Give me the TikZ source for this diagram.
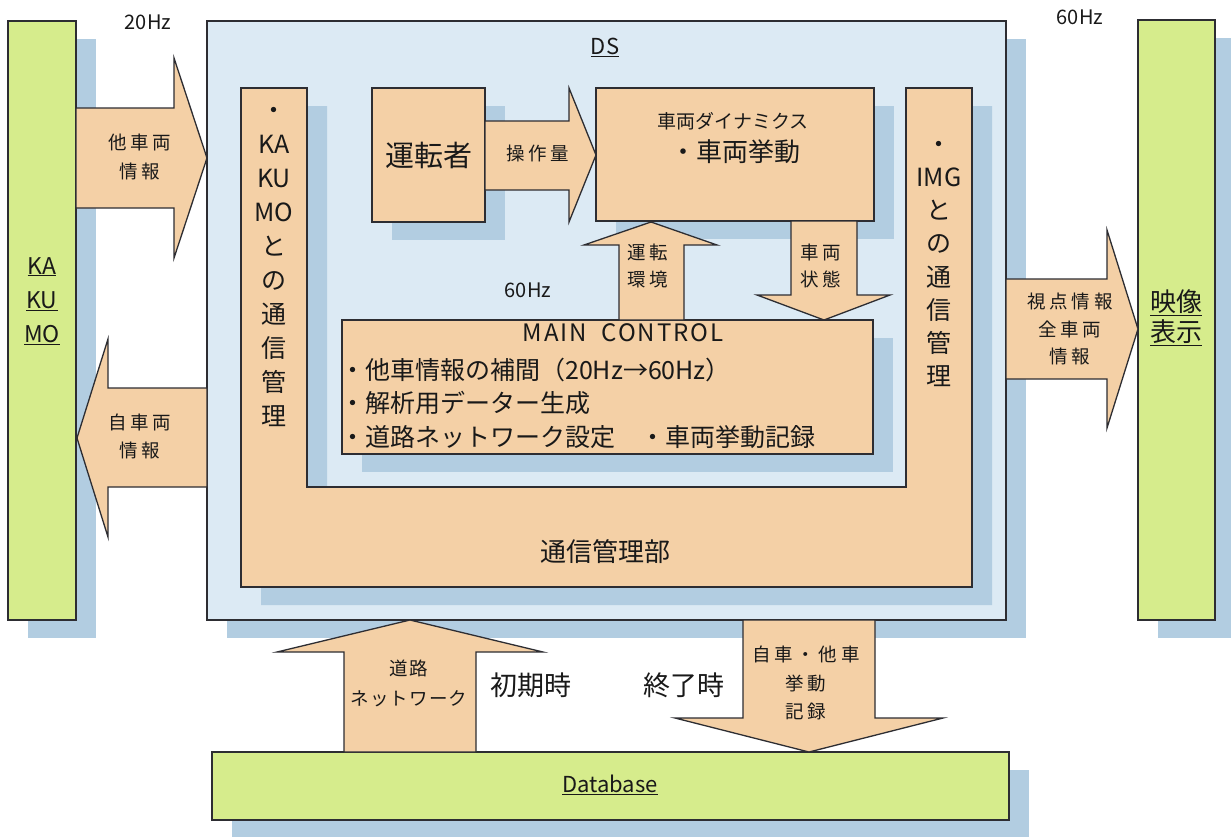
\documentclass[tikz,border=0pt]{standalone}
\usepackage{fontspec}
\setmainfont{Noto Sans CJK JP}
\newfontfamily\lblfont[LetterSpace=20]{Noto Sans CJK JP}
\newfontfamily\lblfontb[LetterSpace=6]{Noto Sans CJK JP}
\newfontfamily\mcfont[LetterSpace=8]{Noto Sans CJK JP}
\usetikzlibrary{shadows}
\definecolor{peach}{RGB}{244,208,166}
\definecolor{lime}{RGB}{214,236,140}
\definecolor{dsblue}{RGB}{220,234,244}
\definecolor{shade}{RGB}{178,205,225}
\definecolor{linec}{RGB}{45,45,50}
\definecolor{txtc}{RGB}{25,25,25}
\newcommand\FSz[2]{\fontsize{#1}{#2}\selectfont}
\begin{document}
\begin{tikzpicture}[x=1pt,y=-1pt,
  line/.style={draw=linec, line width=1.3pt},
  shadowed/.style={drop shadow={shadow xshift=20pt, shadow yshift=-18pt, fill=shade, opacity=1}},
  boxbase/.style={line, shadowed, rectangle, inner sep=0pt, outer sep=0pt, anchor=north west},
  greenbox/.style={boxbase, fill=lime},
  peachbox/.style={boxbase, fill=peach},
  dsbox/.style={boxbase, fill=dsblue},
  barrow/.style={line, fill=peach, line join=miter},
  txt/.style={inner sep=0pt, text=txtc, align=center},
  lbl/.style={txt, font=\lblfont\FSz{18.5}{28}},
]
\useasboundingbox (0,0) rectangle (1231,836);
\fill[white] (0,0) rectangle (1231,836);

% main boxes
\node[greenbox, minimum width=68pt, minimum height=599pt] (kakumo) at (8,21) {};
\node[dsbox, minimum width=799pt, minimum height=599pt] (ds) at (207,21) {};
\node[greenbox, minimum width=77pt, minimum height=600pt] (eizo) at (1138,20) {};
\node[greenbox, minimum width=797pt, minimum height=68pt] (db) at (212,752) {};

% communication management U-shape
\draw[line, fill=peach, shadowed] (241,88) -- (307,88) -- (307,487) -- (906,487) -- (906,88)
  -- (972,88) -- (972,587) -- (241,587) -- cycle;

% inner boxes
\node[peachbox, minimum width=113pt, minimum height=134pt] (driver) at (372,88) {};
\node[peachbox, minimum width=278pt, minimum height=133pt] (dyn) at (596,88) {};
\node[peachbox, minimum width=531pt, minimum height=134pt] (mc) at (342,320) {};

% block arrows
\draw[barrow] (76,108) -- (174,108) -- (174,58) -- (207,158) -- (174,258) -- (174,208) -- (76,208) -- cycle;
\draw[barrow] (207,388) -- (108,388) -- (108,339) -- (77,438) -- (108,537) -- (108,487) -- (207,487) -- cycle;
\draw[barrow] (485,121) -- (569,121) -- (569,88) -- (596,155) -- (569,222) -- (569,190) -- (485,190) -- cycle;
\draw[barrow] (619,320) -- (619,245) -- (584,245) -- (651,222) -- (717,245) -- (684,245) -- (684,320) -- cycle;
\draw[barrow] (791,221) -- (791,295) -- (757,295) -- (824,320) -- (890,295) -- (857,295) -- (857,221) -- cycle;
\draw[barrow] (1006,279) -- (1107,279) -- (1107,230) -- (1138,329) -- (1107,428) -- (1107,379) -- (1006,379) -- cycle;
\draw[barrow] (344,752) -- (344,652) -- (277,652) -- (410,620) -- (543,652) -- (476,652) -- (476,752) -- cycle;
\draw[barrow] (743,620) -- (743,718) -- (675,718) -- (809,752) -- (943,718) -- (875,718) -- (875,620) -- cycle;

% texts
\node[txt, font=\FSz{20}{24}] (hz20) at (148,22) {20Hz};
\node[txt, font=\FSz{20}{24}] (hz60a) at (1080,17) {60Hz};
\node[txt, font=\FSz{20}{24}] (hz60b) at (528,290) {60Hz};
\node[txt, font=\FSz{22}{26}] (dslbl) at (605,47) {\underline{DS}};
\node[txt, font=\FSz{23}{34}] (kklbl) at (42,301) {\underline{KA}\\\underline{KU}\\\underline{MO}};
\node[txt, font=\FSz{26}{30}] (eizolbl) at (1176,318) {\underline{映像}\\\underline{表示}};
\node[txt, font=\FSz{22}{26}] (dblbl) at (610,785) {\underline{Database}};
\node[txt, font=\FSz{26}{30}] (tsushin) at (605,552) {通信管理部};
\node[txt, font=\FSz{29}{30}] (driverlbl) at (driver.center) {運転者};
\node[txt, font=\FSz{19}{22}] (dynlbl) at (733,121) {車両ダイナミクス};
\node[txt, font=\FSz{26}{30}] (dynlbl2) at (735,152) {・車両挙動};
\node[txt, font=\mcfont\FSz{24}{28}] (mclbl) at (623,333) {MAIN\ \ CONTROL};
\node[txt, font=\FSz{25}{33.5}, align=left, anchor=west] (mclines) at (340,403)
  {・他車情報の補間（20Hz→60Hz）\\・解析用データー生成\\・道路ネットワーク設定\quad ・車両挙動記録};
\node[txt, font=\FSz{25}{33.9}] (leftcol) at (274,267) {・\\KA\\KU\\MO\\と\\の\\通\\信\\管\\理};
\node[txt, font=\FSz{25}{33.1}] (rightcol) at (939,264) {・\\IMG\\と\\の\\通\\信\\管\\理};

\node[lbl, font=\lblfont\FSz{18.5}{29}] (a1) at (140,157) {他車両\\情報};
\node[lbl] (a2) at (140,436) {自車両\\情報};
\node[lbl] (a3) at (538,153) {操作量};
\node[lbl, font=\lblfont\FSz{18.5}{27}] (a4) at (648,266) {運転\\環境};
\node[lbl, font=\lblfont\FSz{18.5}{27}] (a5) at (821,266) {車両\\状態};
\node[lbl, font=\lblfont\FSz{18.5}{27.5}] (a6) at (1070,329) {視点情報\\全車両\\情報};
\node[lbl, font=\lblfontb\FSz{18.5}{30}] (a7) at (409,683) {道路\\ネットワーク};
\node[lbl, font=\lblfont\FSz{18.5}{28.5}] (a8) at (806,683) {自車・他車\\挙動\\記録};
\node[txt, font=\FSz{27}{30}] (shoki) at (531,685) {初期時};
\node[txt, font=\FSz{27}{30}] (shuryo) at (684,685) {終了時};
\end{tikzpicture}
\end{document}
